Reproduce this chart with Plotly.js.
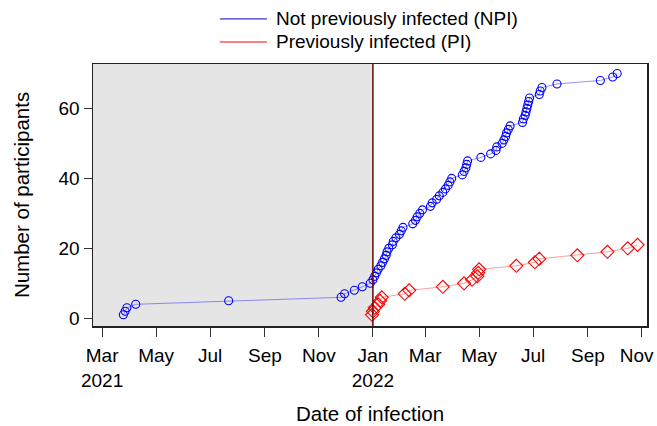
<!DOCTYPE html>
<html>
<head>
<meta charset="utf-8">
<script src="https://cdn.plot.ly/plotly-3.0.1.min.js"></script>
<style>html,body{margin:0;padding:0;background:#fff;}#chart{width:657px;height:426px;}</style>
</head>
<body>
<div id="chart"></div>
<script>
// Not previously infected (NPI): infection dates, cumulative count
const npiDates = [
  '2021-03-25','2021-03-27','2021-03-29','2021-04-08','2021-07-22',
  '2021-11-26','2021-11-30','2021-12-11','2021-12-20','2021-12-29',
  '2022-01-01','2022-01-03','2022-01-05','2022-01-07','2022-01-10',
  '2022-01-12','2022-01-14','2022-01-16','2022-01-17','2022-01-19',
  '2022-01-23','2022-01-24','2022-01-27','2022-01-31','2022-02-02',
  '2022-02-04','2022-02-15','2022-02-18','2022-02-20','2022-02-23',
  '2022-02-26','2022-03-07','2022-03-09','2022-03-14','2022-03-17',
  '2022-03-21','2022-03-24','2022-03-27','2022-03-29','2022-03-31',
  '2022-04-12','2022-04-14','2022-04-16','2022-04-17','2022-04-18',
  '2022-05-03','2022-05-14','2022-05-20','2022-05-21','2022-05-27',
  '2022-05-29','2022-05-31','2022-06-01','2022-06-03','2022-06-05',
  '2022-06-19','2022-06-20','2022-06-22','2022-06-23','2022-06-24',
  '2022-06-25','2022-06-26','2022-06-27','2022-07-08','2022-07-09',
  '2022-07-11','2022-07-28','2022-09-15','2022-09-29','2022-10-04'
];
const npiCounts = [
  1,2,3,4,5,6,7,8,9,10,
  11,12,13,14,15,16,17,18,19,20,
  21,22,23,24,25,26,27,28,29,30,
  31,32,33,34,35,36,37,38,39,40,
  41,42,43,44,45,46,47,48,49,50,
  51,52,53,54,55,56,57,58,59,60,
  61,62,63,64,65,66,67,68,69,70
];
// Previously infected (PI)
const piDates = [
  '2021-12-31','2022-01-01','2022-01-03','2022-01-07','2022-01-09',
  '2022-01-11','2022-02-06','2022-02-11','2022-03-21','2022-04-14',
  '2022-04-23','2022-04-29','2022-04-30','2022-05-01','2022-06-12',
  '2022-07-03','2022-07-08','2022-08-20','2022-09-23','2022-10-16',
  '2022-10-27'
];
const piCounts = [1,2,3,4,5,6,7,8,9,10,11,12,13,14,15,16,17,18,19,20,21];

// axis ticks (last label padded so it stays inside the page)
const tickDates = ['2021-03-01','2021-05-01','2021-07-01','2021-09-01','2021-11-01','2022-01-01',
                   '2022-03-01','2022-05-01','2022-07-01','2022-09-01','2022-11-01'];
const tickLabels = ['Mar<br>2021','May','Jul','Sep','Nov','Jan<br>2022','Mar','May','Jul','Sep','Nov&nbsp;&nbsp;'];
const yTicks = [0,20,40,60];
const seriesNames = ['Not previously infected (NPI)', 'Previously infected (PI)'];
const splitDate = '2022-01-01';
const xStart = '2021-02-18 17:00';
const xEnd = '2022-11-06 17:00';

const font = 'Arial, "Liberation Sans", sans-serif';

const traces = [
  {x: npiDates, y: npiCounts, type: 'scatter', mode: 'lines+markers', name: seriesNames[0], showlegend: false,
   line: {color: 'rgba(60,60,255,0.55)', width: 1},
   marker: {symbol: 'circle-open', size: 8, color: '#0000ff', line: {width: 1.1, color: '#0000ff'}}},
  {x: piDates, y: piCounts, type: 'scatter', mode: 'lines+markers', name: seriesNames[1], showlegend: false,
   line: {color: 'rgba(255,60,60,0.5)', width: 1},
   marker: {symbol: 'diamond-open', size: 10, color: '#ff0000', line: {width: 1.1, color: '#ff0000'}}}
];

// legend drawn as key lines + text in paper coordinates
const legY = [1.172, 1.084];
const legColors = ['#0000cc', '#ff0000'];
const legShapes = legY.map((yy, i) => ({type: 'line', xref: 'paper', yref: 'paper',
  x0: 0.229, x1: 0.314, y0: yy, y1: yy, line: {color: legColors[i], width: 1}}));
const legAnn = legY.map((yy, i) => ({xref: 'paper', yref: 'paper', x: 0.3265, y: yy,
  xanchor: 'left', yanchor: 'middle', showarrow: false, text: seriesNames[i],
  font: {family: font, size: 19, color: '#000'}}));

const layout = {
  width: 657, height: 426,
  margin: {l: 93, r: 10, t: 64, b: 100, autoexpand: false},
  paper_bgcolor: '#ffffff', plot_bgcolor: '#ffffff',
  font: {family: font, size: 19, color: '#000'},
  showlegend: false,
  xaxis: {type: 'date', range: [xStart, xEnd], tickmode: 'array', tickvals: tickDates, ticktext: tickLabels,
          automargin: false, ticklabeloverflow: 'allow',
          ticks: 'outside', ticklen: 9, tickwidth: 1, tickcolor: '#333', ticklabelstandoff: 3,
          showline: true, mirror: true, linecolor: '#222', linewidth: 1.5,
          showgrid: false, zeroline: false,
          tickfont: {family: font, size: 19, color: '#000'},
          title: {text: 'Date of infection', font: {family: font, size: 20.5, color: '#000'}, standoff: 16}},
  yaxis: {range: [-2.2, 72.7], tickmode: 'array', tickvals: yTicks, automargin: false,
          ticks: 'outside', ticklen: 8, tickwidth: 1, tickcolor: '#333',
          showline: true, mirror: true, linecolor: '#222', linewidth: 1.5,
          showgrid: false, zeroline: false,
          tickfont: {family: font, size: 19, color: '#000'},
          title: {text: 'Number of participants', font: {family: font, size: 20.5, color: '#000'}, standoff: 23}},
  shapes: [
    {type: 'rect', xref: 'x', yref: 'paper', x0: xStart, x1: splitDate, y0: 0, y1: 1,
     fillcolor: '#e5e5e5', line: {width: 0}, layer: 'below'},
    {type: 'line', xref: 'x', yref: 'paper', x0: splitDate, x1: splitDate, y0: 0, y1: 1,
     line: {color: '#6a0000', width: 1.5}, layer: 'above'}
  ].concat(legShapes),
  annotations: legAnn
};

Plotly.newPlot('chart', traces, layout, {displayModeBar: false, staticPlot: true});
</script>
</body>
</html>
